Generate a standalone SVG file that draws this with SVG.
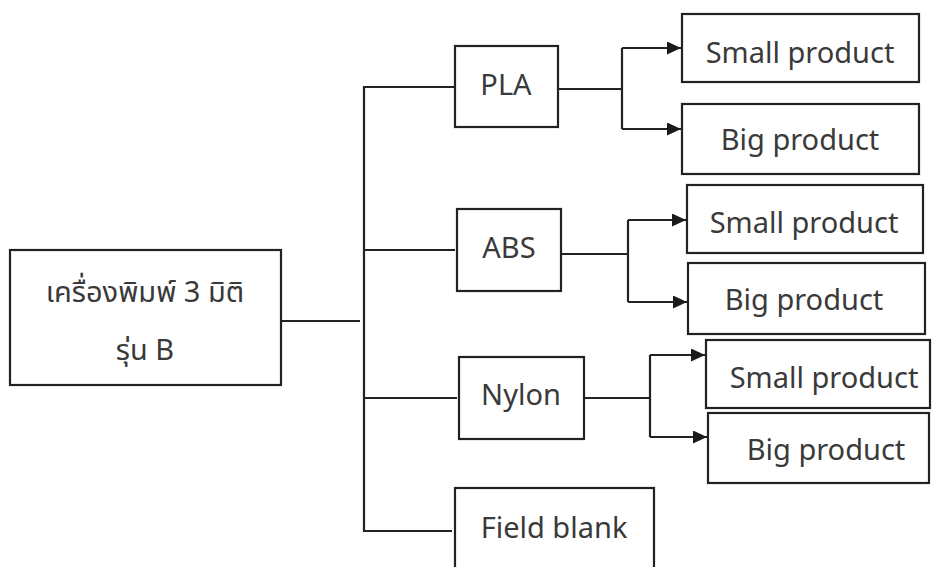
<svg xmlns="http://www.w3.org/2000/svg" width="932" height="567" viewBox="0 0 932 567">
<defs>
<marker id="arr" markerUnits="userSpaceOnUse" markerWidth="15" markerHeight="13" refX="14" refY="6.5" orient="auto">
<path d="M0,0 L14,6.5 L0,13 Z" fill="#1a1a1a"/>
</marker>
<style>
.box{fill:#fff;stroke:#222;stroke-width:2.2}
.t{font-family:"Noto Sans","Noto Sans Thai","Loma","Liberation Sans",sans-serif;font-size:29px;fill:#3a3a3a;text-anchor:middle}
.ln{fill:none;stroke:#222;stroke-width:2.2}
</style>
</defs>
<rect width="932" height="567" fill="#fff"/>
<g id="connectors">
<path class="ln" d="M281,321 H360"/>
<path class="ln" d="M455,87 H364 V531 H452"/>
<path class="ln" d="M364,250 H455"/>
<path class="ln" d="M364,398 H457"/>
<path class="ln" d="M558,89 H622"/>
<path class="ln" d="M622,48 V129"/>
<path class="ln" d="M622,48 H681" marker-end="url(#arr)"/>
<path class="ln" d="M622,129 H681" marker-end="url(#arr)"/>
<path class="ln" d="M561,254 H628"/>
<path class="ln" d="M628,220 V302"/>
<path class="ln" d="M628,220 H686" marker-end="url(#arr)"/>
<path class="ln" d="M628,302 H687" marker-end="url(#arr)"/>
<path class="ln" d="M584,398 H650"/>
<path class="ln" d="M650,355 V437"/>
<path class="ln" d="M650,355 H705" marker-end="url(#arr)"/>
<path class="ln" d="M650,437 H707" marker-end="url(#arr)"/>
</g>
<g id="root">
<rect class="box" x="10" y="250" width="271" height="135"/>
<text class="t" x="145" y="302">เครื่องพิมพ์ 3 มิติ</text>
<text class="t" x="145" y="360">รุ่น B</text>
</g>
<g id="pla">
<rect class="box" x="455" y="46" width="103" height="81"/>
<text class="t" x="506" y="95">PLA</text>
</g>
<g id="abs">
<rect class="box" x="457" y="209" width="104" height="82"/>
<text class="t" x="509" y="258">ABS</text>
</g>
<g id="nylon">
<rect class="box" x="459" y="357" width="125" height="82"/>
<text class="t" x="521" y="405">Nylon</text>
</g>
<g id="field-blank">
<rect class="box" x="455" y="488" width="199" height="90"/>
<text class="t" x="554" y="538">Field blank</text>
</g>
<g id="pla-small">
<rect class="box" x="682" y="14" width="237" height="68"/>
<text class="t" x="800" y="63">Small product</text>
</g>
<g id="pla-big">
<rect class="box" x="682" y="104" width="237" height="70"/>
<text class="t" x="800" y="150">Big product</text>
</g>
<g id="abs-small">
<rect class="box" x="687" y="185" width="236" height="68"/>
<text class="t" x="804" y="233">Small product</text>
</g>
<g id="abs-big">
<rect class="box" x="688" y="263" width="237" height="71"/>
<text class="t" x="804" y="310">Big product</text>
</g>
<g id="nylon-small">
<rect class="box" x="706" y="340" width="224" height="68"/>
<text class="t" x="824" y="388">Small product</text>
</g>
<g id="nylon-big">
<rect class="box" x="708" y="413" width="221" height="70"/>
<text class="t" x="826" y="460">Big product</text>
</g>
</svg>
